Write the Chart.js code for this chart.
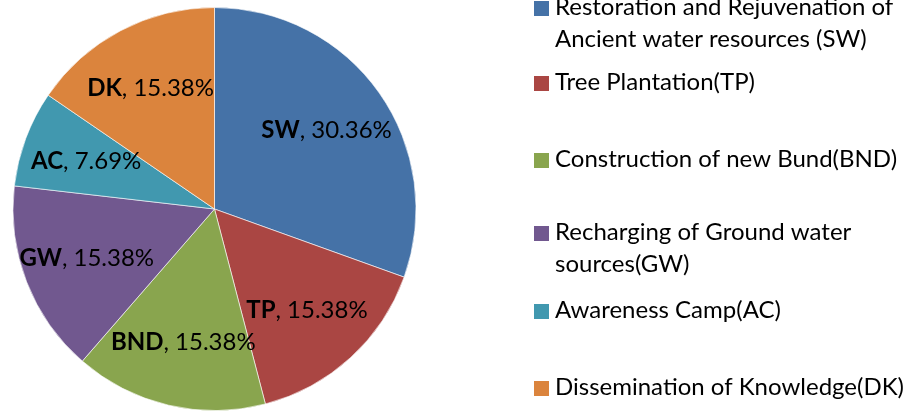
<!DOCTYPE html>
<html>
<head>
<meta charset="utf-8">
<script src="https://cdn.jsdelivr.net/npm/chart.js@4"></script>
<style>
  html, body { margin: 0; padding: 0; background: #fff; }
  #wrap { position: relative; width: 909px; height: 411px; }
</style>
</head>
<body>
<div id="wrap"><canvas id="pieChart" width="909" height="411"></canvas></div>
<script>
// chart data
const codes = ['SW', 'TP', 'BND', 'GW', 'AC', 'DK'];
const shares = [30.36, 15.38, 15.38, 15.38, 7.69, 15.38];
const legendLines = [
    ['Restoration and Rejuvenation of', 'Ancient water resources (SW)'],
    ['Tree Plantation(TP)'],
    ['Construction of new Bund(BND)'],
    ['Recharging of Ground water', 'sources(GW)'],
    ['Awareness Camp(AC)'],
    ['Dissemination of Knowledge(DK)']
];
const sliceColors = ['#4572a7', '#aa4643', '#89a54e', '#71588f', '#4198af', '#db843d'];

const FONT = 'Lato, "Open Sans", sans-serif';
const FONT_SIZE = 24;

// legend layout (baselines of first line of each entry)
const legendBaselines = [15, 90, 167, 240, 318, 395];
const legendLineGap = 32;

const sliceLabels = {
    id: 'sliceLabels',
    afterDatasetsDraw(chart) {
        const ctx = chart.ctx;
        const meta = chart.getDatasetMeta(0);
        ctx.save();
        ctx.textBaseline = 'middle';
        ctx.fillStyle = '#000';
        meta.data.forEach((arc, i) => {
            const mid = (arc.startAngle + arc.endAngle) / 2;
            const r = arc.outerRadius * 0.68;
            const x = arc.x + Math.cos(mid) * r;
            const y = arc.y + Math.sin(mid) * r;
            const boldPart = codes[i];
            const restPart = ', ' + shares[i].toFixed(2) + '%';
            ctx.font = 'bold ' + FONT_SIZE + 'px ' + FONT;
            const w1 = ctx.measureText(boldPart).width;
            ctx.font = FONT_SIZE + 'px ' + FONT;
            const w2 = ctx.measureText(restPart).width;
            const left = x - (w1 + w2) / 2;
            ctx.textAlign = 'left';
            ctx.font = 'bold ' + FONT_SIZE + 'px ' + FONT;
            ctx.fillText(boldPart, left, y);
            ctx.font = FONT_SIZE + 'px ' + FONT;
            ctx.fillText(restPart, left + w1, y);
        });
        ctx.restore();
    }
};

const sideLegend = {
    id: 'sideLegend',
    afterDraw(chart) {
        const ctx = chart.ctx;
        ctx.save();
        ctx.font = FONT_SIZE + 'px ' + FONT;
        ctx.textBaseline = 'alphabetic';
        ctx.textAlign = 'left';
        legendLines.forEach((lines, i) => {
            const base = legendBaselines[i];
            ctx.fillStyle = sliceColors[i];
            ctx.fillRect(534, base - 14, 15, 15);
            ctx.fillStyle = '#000';
            lines.forEach((line, j) => {
                ctx.fillText(line, 555, base + j * legendLineGap);
            });
        });
        ctx.restore();
    }
};

new Chart(document.getElementById('pieChart'), {
    type: 'pie',
    data: {
        labels: legendLines.map(l => l.join(' ')),
        datasets: [{
            data: shares,
            backgroundColor: sliceColors,
            borderColor: 'rgba(255,255,255,0.6)',
            borderWidth: 1
        }]
    },
    options: {
        responsive: false,
        animation: false,
        layout: { padding: { top: 7, bottom: 0, left: 0, right: 480 } },
        plugins: {
            legend: { display: false },
            tooltip: { enabled: false }
        }
    },
    plugins: [sliceLabels, sideLegend]
});
</script>
</body>
</html>
